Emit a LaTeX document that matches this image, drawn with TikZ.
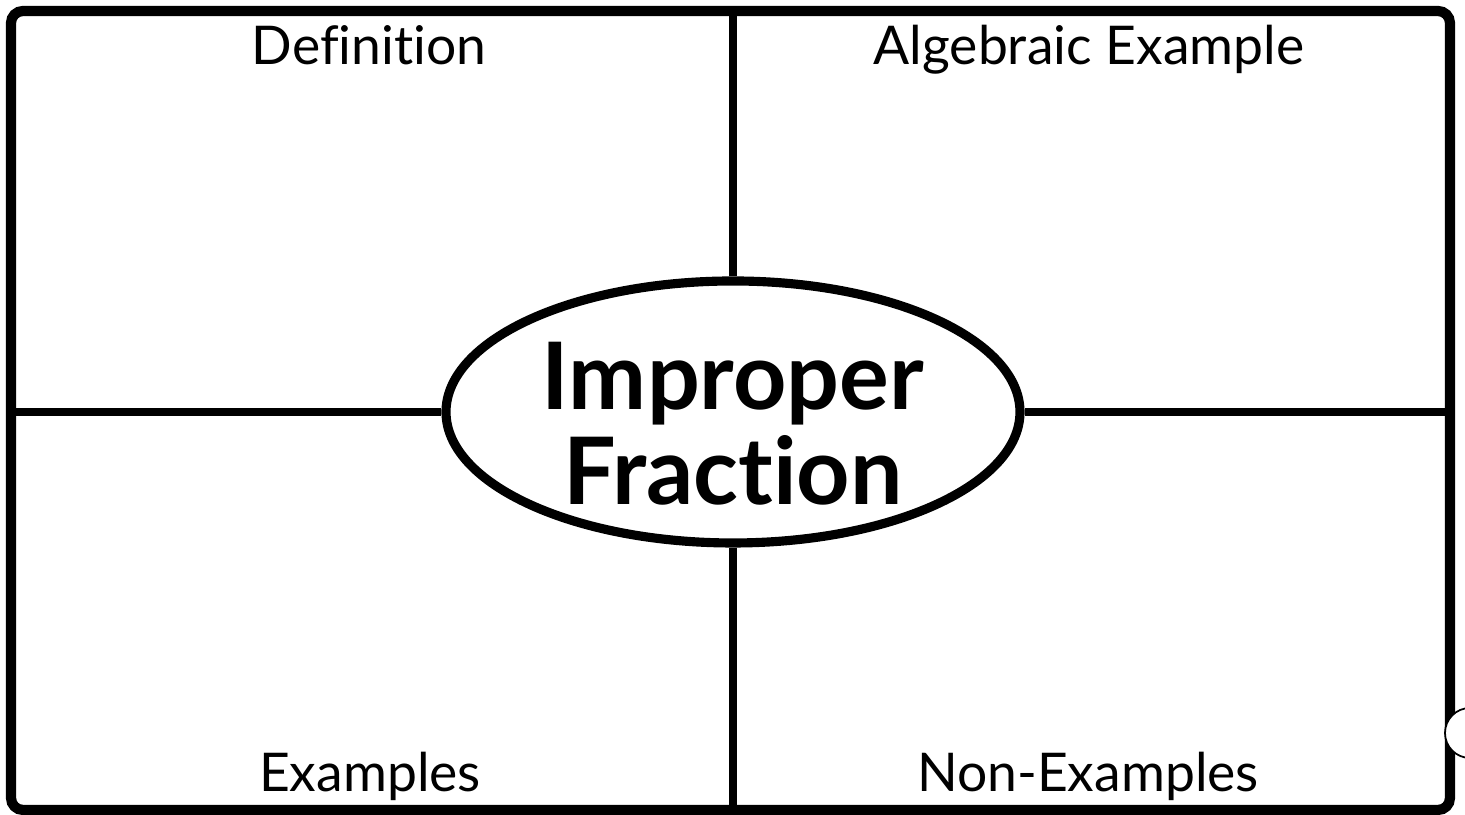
\documentclass[tikz,border=0pt]{standalone}
\usepackage{fontspec}
\setmainfont{Lato}[Ligatures=NoCommon]
\usepackage{tikz}
\usetikzlibrary{shapes.geometric, positioning, calc}

\begin{document}
\begin{tikzpicture}[
    frame/.style={rectangle, draw, line width=2.9pt, rounded corners=0.12cm, inner sep=0pt, minimum width=14.39cm, minimum height=7.99cm},
    oval/.style={ellipse, draw, fill=white, line width=2.6pt, inner sep=0pt, minimum width=5.74cm, minimum height=2.62cm},
    title/.style={align=center, font=\fontsize{26.5}{27}\selectfont\bfseries},
    label/.style={anchor=base, font=\fontsize{15.2}{18}\selectfont},
    divider/.style={line width=2.3pt},
]
\useasboundingbox (0,0) rectangle (14.65,8.15);

\node[frame] (frame) at (7.305,4.045) {};
\node[oval] (term) at (7.33,4.03) {};
\node[title] (name) at ($(term.center)+(0,-0.12)$) {Improper\\Fraction};

% dividers between the four boxes
\draw[divider] (term.north) -- (term.north |- frame.north);
\draw[divider] (term.south) -- (term.south |- frame.south);
\draw[divider] (term.west) -- (term.west -| frame.west);
\draw[divider] (term.east) -- (term.east -| frame.east);

\node[label] (def) at (3.69,7.50) {Definition};
\node[label] (alg) at (10.89,7.50) {Algebraic Example};
\node[label] (ex) at (3.70,0.23) {Examples};
\node[label] (nonex) at (10.88,0.23) {Non-Examples};

\draw[line width=0.5pt, fill=white] (14.70,0.82) circle (0.25);
\end{tikzpicture}
\end{document}
